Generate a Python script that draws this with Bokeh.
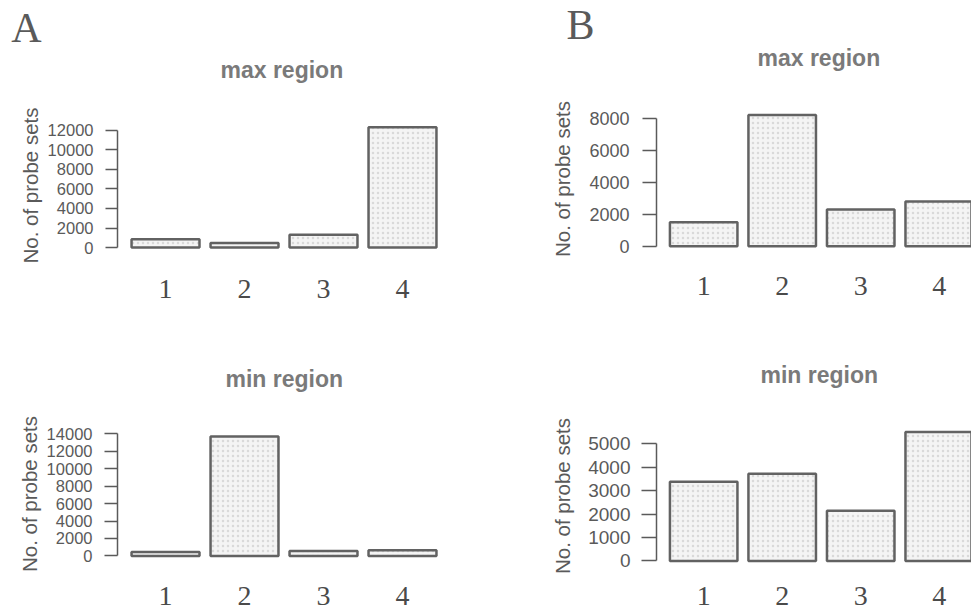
from bokeh.plotting import figure
from bokeh.layouts import row, column
from bokeh.models import FixedTicker, Label, Range1d, Title
from bokeh.embed import file_html
from bokeh.resources import INLINE

# ---- data ----
categories = [1, 2, 3, 4]
cat_labels = ["1", "2", "3", "4"]

a_max_values = [850, 470, 1300, 12300]
a_min_values = [450, 13700, 550, 650]
b_max_values = [1500, 8200, 2300, 2800]
b_min_values = [3380, 3720, 2140, 5510]

a_max_ticks = [0, 2000, 4000, 6000, 8000, 10000, 12000]
a_min_ticks = [0, 2000, 4000, 6000, 8000, 10000, 12000, 14000]
b_max_ticks = [0, 2000, 4000, 6000, 8000]
b_min_ticks = [0, 1000, 2000, 3000, 4000, 5000]

y_title = "No. of probe sets"

SANS = "Liberation Sans"
SERIF = "Liberation Serif"


def panel(values, ticks, title, width, height, x_rng, y_rng,
          b_left, b_right, b_top, b_bottom, tick_font, tick_out,
          tick_standoff, title_standoff, title_offset, xl_standoff,
          axl_standoff, letter=None, letter_xy=None):
    p = figure(width=width, height=height, output_backend="svg",
               toolbar_location=None, x_range=Range1d(*x_rng),
               y_range=Range1d(*y_rng), min_border_left=b_left,
               min_border_right=b_right, min_border_top=b_top,
               min_border_bottom=b_bottom)
    p.outline_line_color = None
    p.grid.visible = False
    p.background_fill_color = "white"
    p.border_fill_color = "white"

    p.vbar(x=categories, top=values, bottom=0, width=0.86,
           fill_color="#f4f4f4", line_color="#626262", line_width=2.5,
           hatch_pattern="dot", hatch_color="#9a9a9a", hatch_alpha=0.3,
           hatch_scale=5)

    if letter is not None:
        p.add_layout(Label(x=letter_xy[0], y=letter_xy[1], x_units="screen",
                           y_units="screen", text=letter, text_font=SERIF,
                           text_font_size="42px", text_color="#5a5a5a",
                           text_align="center", text_baseline="middle"),
                     "above")

    p.add_layout(Title(text=title, text_font=SANS, text_font_size="23px",
                       text_font_style="bold", text_color="#7a7a7a",
                       align="left", offset=title_offset,
                       standoff=title_standoff), "above")

    ya = p.yaxis[0]
    ya.ticker = FixedTicker(ticks=ticks)
    ya.bounds = (ticks[0], ticks[-1])
    ya.minor_tick_line_color = None
    ya.major_tick_in = 0
    ya.major_tick_out = tick_out
    ya.axis_line_color = "#5a5a5a"
    ya.axis_line_width = 1.5
    ya.major_tick_line_color = "#5a5a5a"
    ya.major_tick_line_width = 1.5
    ya.major_label_text_font = SANS
    ya.major_label_text_font_size = tick_font
    ya.major_label_text_color = "#5a5a5a"
    ya.major_label_standoff = tick_standoff
    ya.axis_label = y_title
    ya.axis_label_text_font = SANS
    ya.axis_label_text_font_size = "20.5px"
    ya.axis_label_text_font_style = "normal"
    ya.axis_label_text_color = "#5a5a5a"
    ya.axis_label_standoff = axl_standoff

    xa = p.xaxis[0]
    xa.ticker = FixedTicker(ticks=categories)
    xa.major_label_overrides = {c: l for c, l in zip(categories, cat_labels)}
    xa.axis_line_color = None
    xa.major_tick_line_color = None
    xa.minor_tick_line_color = None
    xa.major_label_text_font = SERIF
    xa.major_label_text_font_size = "28px"
    xa.major_label_text_color = "#4a4a4a"
    xa.major_label_standoff = xl_standoff
    return p


pA1 = panel(a_max_values, a_max_ticks, "max region", 480, 318,
            (0.392, 4.595), (-300, 13000), 117, 31, 120, 68,
            "16.5px", 12, 12, -17, 103, 23, 3, "A", (-91, 93))
pA2 = panel(a_min_values, a_min_ticks, "min region", 480, 296,
            (0.392, 4.595), (-300, 14500), 117, 31, 111, 56,
            "16.5px", 13, 12, 76, 108, 22, 3)
pB1 = panel(b_max_values, b_max_ticks, "max region", 491, 318,
            (0.399, 4.411), (-200, 8600), 174, 0, 108, 69,
            "18px", 14, 13, -17, 101, 21, 12, "B", (-76, 84))
pB2 = panel(b_min_values, b_min_ticks, "min region", 491, 296,
            (0.399, 4.411), (-150, 5700), 176, 0, 109, 50,
            "19px", 15, 11, 79, 104, 16, 11)

layout = row(column(pA1, pA2), column(pB1, pB2))

open("out.html", "w").write(file_html(layout, INLINE))
